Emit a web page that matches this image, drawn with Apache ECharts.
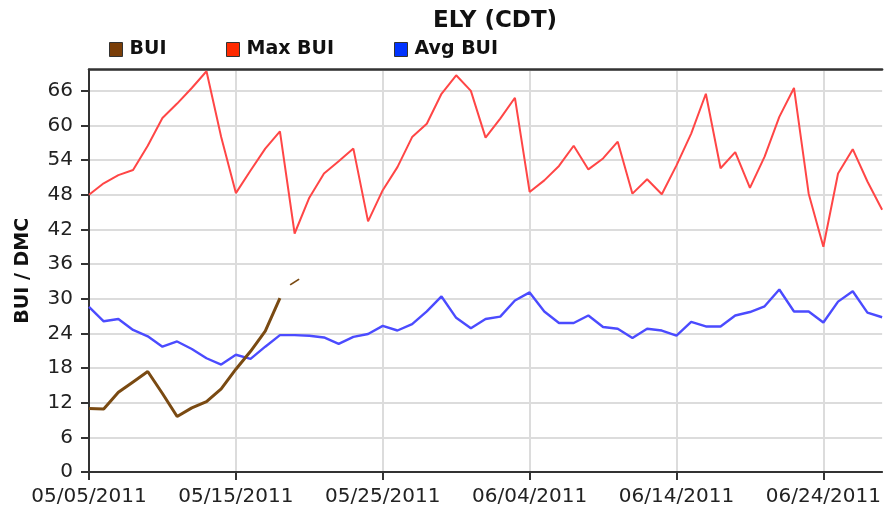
<!DOCTYPE html>
<html>
<head>
<meta charset="utf-8">
<script src="https://cdn.jsdelivr.net/npm/echarts@6/dist/echarts.min.js"></script>
<style>
html,body{margin:0;padding:0;background:#fff;}
#chart{width:884px;height:512px;}
</style>
</head>
<body>
<div id="chart"></div>
<script>
const dates = [
  "05/05/2011","05/06/2011","05/07/2011","05/08/2011","05/09/2011","05/10/2011","05/11/2011","05/12/2011","05/13/2011","05/14/2011",
  "05/15/2011","05/16/2011","05/17/2011","05/18/2011","05/19/2011","05/20/2011","05/21/2011","05/22/2011","05/23/2011","05/24/2011",
  "05/25/2011","05/26/2011","05/27/2011","05/28/2011","05/29/2011","05/30/2011","05/31/2011","06/01/2011","06/02/2011","06/03/2011",
  "06/04/2011","06/05/2011","06/06/2011","06/07/2011","06/08/2011","06/09/2011","06/10/2011","06/11/2011","06/12/2011","06/13/2011",
  "06/14/2011","06/15/2011","06/16/2011","06/17/2011","06/18/2011","06/19/2011","06/20/2011","06/21/2011","06/22/2011","06/23/2011",
  "06/24/2011","06/25/2011","06/26/2011","06/27/2011","06/28/2011"
];
const maxBui = [48,50,51.4,52.3,56.5,61.3,63.8,66.5,69.4,58,
  48.3,52.2,56,59,41.3,47.5,51.7,53.8,56,43.4,
  48.8,52.8,58,60.3,65.5,68.7,66,57.9,61.2,64.8,
  48.5,50.5,53,56.5,52.4,54.3,57.2,48.2,50.7,48.1,
  53.1,58.6,65.5,52.6,55.4,49.2,54.6,61.5,66.5,48.2,
  39,51.7,55.9,50.3,45.4];
const avgBui = [28.6,26.1,26.5,24.6,23.5,21.7,22.6,21.3,19.7,18.6,
  20.3,19.6,21.7,23.7,23.7,23.6,23.3,22.2,23.4,23.9,
  25.3,24.5,25.6,27.8,30.4,26.7,24.9,26.5,26.9,29.7,
  31.1,27.8,25.8,25.8,27.1,25.1,24.8,23.2,24.8,24.5,
  23.6,26.0,25.2,25.2,27.1,27.7,28.7,31.6,27.8,27.8,
  25.9,29.5,31.3,27.6,26.8];
const bui = [11,10.9,13.8,15.6,17.4,13.6,9.6,11.1,12.2,14.4,17.8,20.9,24.4,30.1];
const buiTail = [null,null,null,null,null,null,null,null,null,null,null,null,null,null,32.9];
const yTicks = {min:0, max:69.7, step:6};

const chart = echarts.init(document.getElementById('chart'), null, {renderer:'canvas'});
const FONT = 'DejaVu Sans';
function legendAt(left, name, color){
  return {
    left:left, top:35, icon:'rect', itemWidth:13, itemHeight:14, itemGap:10,
    data:[{name:name, itemStyle:{color:color, borderColor:'#333', borderWidth:1}}],
    textStyle:{fontFamily:FONT, fontWeight:'bold', fontSize:19, color:'#111', padding:[0,0,0,2]},
    selectedMode:false
  };
}
const option = {
  animation:false,
  backgroundColor:'#fff',
  textStyle:{fontFamily:FONT},
  title:{text:'ELY (CDT)', left:428, top:5, textStyle:{fontFamily:FONT, fontWeight:'bold', fontSize:23, color:'#111'}},
  legend:[legendAt(104,'BUI','#7a3e08'), legendAt(221,'Max BUI','#ff2a00'), legendAt(389,'Avg BUI','#0033ff')],
  grid:{left:89, right:0, top:69.5, bottom:40, containLabel:false},
  xAxis:[{
    type:'category', data:dates, boundaryGap:false,
    axisLine:{lineStyle:{color:'#333', width:2}},
    axisTick:{interval:9, length:8, lineStyle:{color:'#333', width:2}},
    axisLabel:{interval:9, color:'#222', fontSize:20, fontFamily:FONT, margin:15},
    splitLine:{show:true, interval:9, lineStyle:{color:'#dcdcdc', width:2}}
  },{
    type:'category', data:dates, boundaryGap:false, position:'top',
    axisLine:{lineStyle:{color:'#333', width:2.5}},
    axisTick:{show:false}, axisLabel:{show:false}, splitLine:{show:false}
  }],
  yAxis:{
    type:'value', min:yTicks.min, max:yTicks.max, interval:yTicks.step,
    name:'BUI / DMC', nameLocation:'middle', nameGap:56, nameRotate:90,
    nameTextStyle:{fontFamily:FONT, fontWeight:'bold', fontSize:19, color:'#111'},
    axisLine:{show:true, lineStyle:{color:'#333', width:2}},
    axisTick:{show:true, length:8, lineStyle:{color:'#333', width:2}},
    axisLabel:{showMaxLabel:false, color:'#222', fontSize:20, fontFamily:FONT, margin:16},
    splitLine:{show:true, lineStyle:{color:'#dcdcdc', width:2}}
  },
  series:[
    {name:'Max BUI', type:'line', data:maxBui, symbol:'none', lineStyle:{color:'#ff4646', width:2}, itemStyle:{color:'#ff2a00'}, z:2},
    {name:'Avg BUI', type:'line', data:avgBui, symbol:'none', lineStyle:{color:'#4b4bff', width:2.4}, itemStyle:{color:'#0033ff'}, z:3},
    {name:'BUI', type:'line', data:bui, symbol:'none', lineStyle:{color:'#7a4a12', width:3}, itemStyle:{color:'#7a4a12'}, z:4},
    {name:'BUI', type:'line', data:buiTail, symbol:'path://M0,6 L9,0 L10,1.4 L1,7.4 Z', symbolSize:[10,7], showSymbol:true, showAllSymbol:true, lineStyle:{width:0}, itemStyle:{color:'#7a4a12'}, z:4}
  ]
};
chart.setOption(option);
</script>
</body>
</html>
